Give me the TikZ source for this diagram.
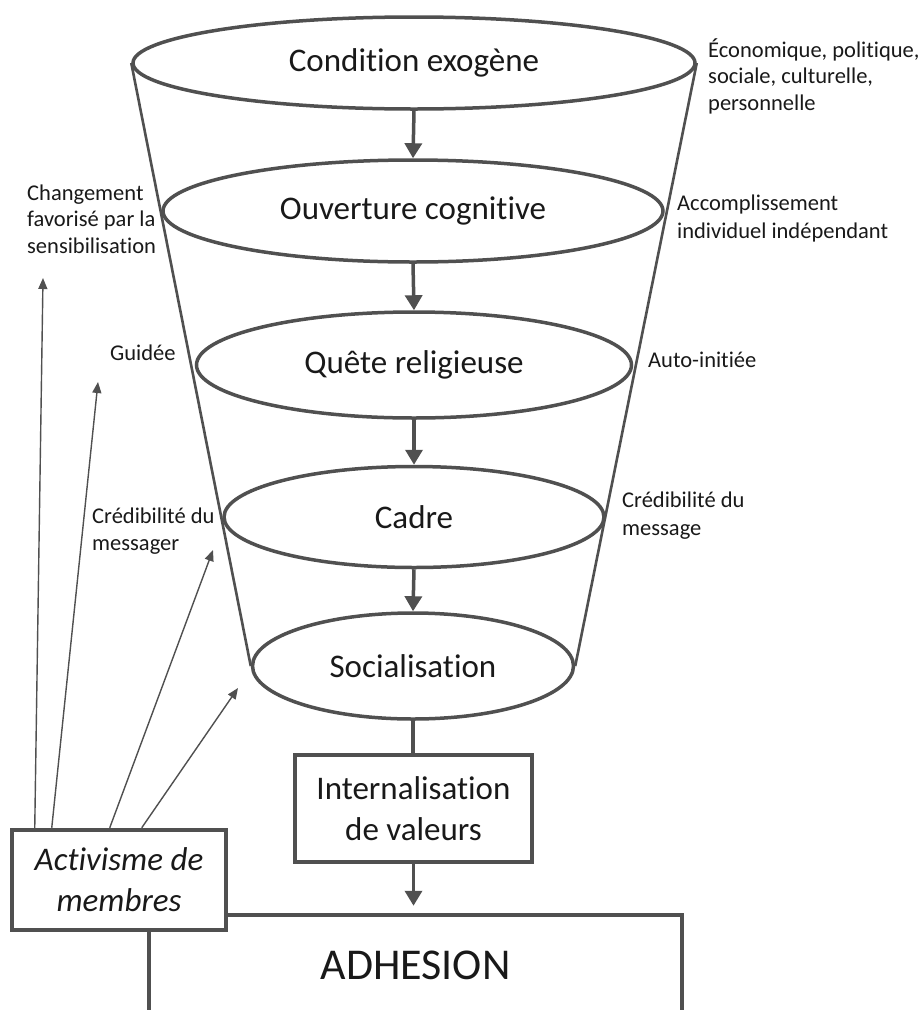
\documentclass[tikz,border=0pt]{standalone}
\usepackage{fontspec}
\setmainfont{Carlito}[Ligatures={NoCommon}]
\usetikzlibrary{shapes.geometric,arrows.meta,calc}
\definecolor{lc}{RGB}{80,80,80}
\definecolor{tc}{RGB}{25,25,25}
\tikzset{
  stage/.style={ellipse, draw=lc, line width=3.5pt, inner sep=0pt, text=tc,
    font=\fontsize{33}{40}\selectfont},
  flowarrow/.style={draw=lc, line width=3.5pt, -{Triangle[width=17pt,length=15pt]}},
  flowline/.style={draw=lc, line width=3.5pt},
  funnel/.style={draw=lc, line width=2.6pt},
  boxnode/.style={rectangle, draw=lc, line width=4.5pt, fill=white, inner sep=0pt,
    text=tc, align=center, font=\fontsize{33}{41}\selectfont},
  thinarrow/.style={draw=lc, line width=1.4pt, -{Triangle[width=9pt,length=11pt]}},
  sidelabel/.style={anchor=west, align=left, inner sep=0pt, text=tc,
    font=\fontsize{22.5}{26.5}\selectfont}
}
\begin{document}
\begin{tikzpicture}[x=1pt,y=-1pt]
\useasboundingbox (0,0) rectangle (923,1010);
\clip (0,0) rectangle (923,1010);
\fill[white] (0,0) rectangle (923,1010);

% funnel stages
\node[stage, minimum width=562pt, minimum height=92pt] (e1) at (414,63) {Condition exogène};
\node[stage, minimum width=500pt, minimum height=102pt] (e2) at (413,211) {Ouverture cognitive};
\node[stage, minimum width=435pt, minimum height=106pt] (e3) at (414,365) {Quête religieuse};
\node[stage, minimum width=380pt, minimum height=101pt] (e4) at (414,517) {Cadre};
\node[stage, minimum width=321pt, minimum height=106pt] (e5) at (413,666) {Socialisation};

% funnel sides
\draw[funnel] (e1.west) -- (e5.west);
\draw[funnel] (e1.east) -- (e5.east);

% arrows between stages
\draw[flowarrow] (e1.south) -- (e2.north);
\draw[flowarrow] (e2.south) -- (e3.north);
\draw[flowarrow] (e3.south) -- (e4.north);
\draw[flowarrow] (e4.south) -- (e5.north);

% lower boxes
\node[boxnode, minimum width=533pt, minimum height=100pt,
  font=\fontsize{44}{50}\selectfont] (adh) at (415.5,965) {ADHESION};
\node[boxnode, minimum width=237pt, minimum height=107pt] (int) at (413.5,808.5)
  {Internalisation\\de valeurs};
\node[boxnode, minimum width=214pt, minimum height=100pt,
  font=\fontsize{33}{41}\selectfont\itshape] (act) at (119,880)
  {Activisme de\\membres};

\draw[flowline] (e5.south) -- (e5.south |- int.north);
\draw[flowarrow, shorten >=7pt] (int.south) -- (int.south |- adh.north);

% activism arrows
\coordinate (t1) at (43,278);
\coordinate (t2) at (98,382);
\coordinate (t3) at (213,550);
\coordinate (t4) at (238,688);
\draw[thinarrow] ($(act.north west)+(25,0)$) -- (t1);
\draw[thinarrow] ($(act.north west)+(42,0)$) -- (t2);
\draw[thinarrow] ($(act.north west)+(100,0)$) -- (t3);
\draw[thinarrow] ($(act.north west)+(132,0)$) -- (t4);

% side labels
\node[sidelabel] (l1) at (27,219) {Changement\\favorisé par la\\sensibilisation};
\node[sidelabel] (l2) at (110,353) {Guidée};
\node[sidelabel] (l3) at (92,531) {Crédibilité du\\messager};
\node[sidelabel] (r1) at (708,76) {Économique, politique,\\sociale, culturelle,\\personnelle};
\node[sidelabel, font=\fontsize{22.5}{28}\selectfont] (r2) at (677,218) {Accomplissement\\individuel indépendant};
\node[sidelabel] (r3) at (648,360) {Auto-initiée};
\node[sidelabel, font=\fontsize{22.5}{28}\selectfont] (r4) at (622,516) {Crédibilité du\\message};
\end{tikzpicture}
\end{document}
